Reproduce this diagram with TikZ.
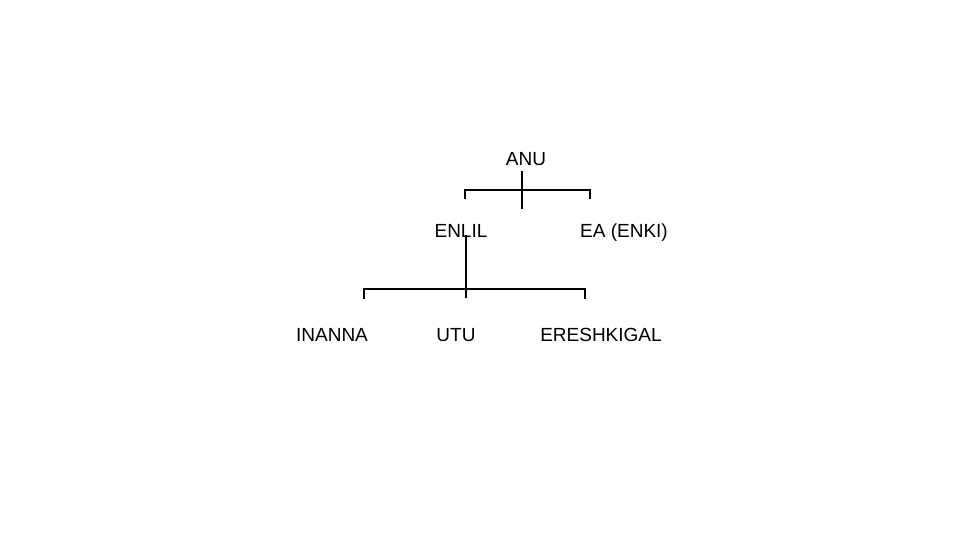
\documentclass[tikz,border=0pt]{standalone}
\usepackage{fontspec}
\setmainfont{Liberation Sans}
\begin{document}
\begin{tikzpicture}[x=1pt,y=-1pt,
  lbl/.style={inner sep=0pt,anchor=base,font=\fontsize{19}{21}\selectfont},
  wire/.style={line width=1.3pt,line cap=rect}]
\useasboundingbox (0,0) rectangle (960,540);
\node[lbl] (anu) at (526,165) {ANU};
\node[lbl] (enlil) at (461,237) {ENLIL};
\node[lbl] (ea) at (624,237) {EA (ENKI)};
\node[lbl] (inanna) at (332,341) {INANNA};
\node[lbl] (utu) at (456,341) {UTU};
\node[lbl] (eresh) at (601,341) {ERESHKIGAL};
% top bus
\coordinate (a1) at (522,172);
\coordinate (a2) at (522,208);
\coordinate (bl) at (465,190);
\coordinate (br) at (590,190);
\coordinate (blt) at (465,198);
\coordinate (brt) at (590,198);
\draw[wire] (a1) -- (a2);
\draw[wire] (blt) -- (bl) -- (br) -- (brt);
% second bus
\coordinate (e1) at (466,236);
\coordinate (e2) at (466,297);
\coordinate (cl) at (364,289);
\coordinate (cr) at (585,289);
\coordinate (clt) at (364,298);
\coordinate (crt) at (585,298);
\draw[wire] (e1) -- (e2);
\draw[wire] (clt) -- (cl) -- (cr) -- (crt);
\end{tikzpicture}
\end{document}
